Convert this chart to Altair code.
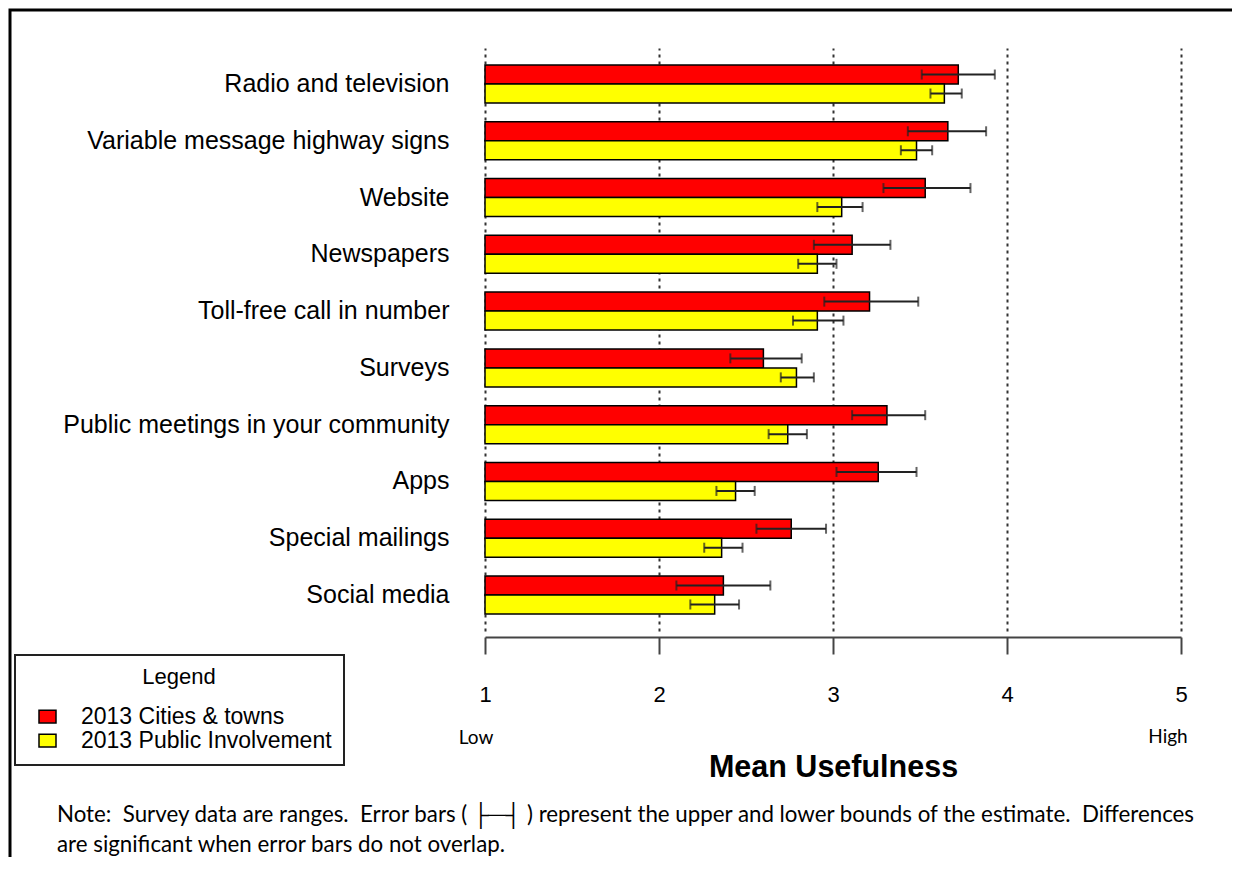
import altair as alt
import pandas as pd

categories = ["Radio and television", "Variable message highway signs", "Website",
              "Newspapers", "Toll-free call in number", "Surveys",
              "Public meetings in your community", "Apps", "Special mailings", "Social media"]
series = ["2013 Cities & towns", "2013 Public Involvement"]
colors = ["#FF0000", "#FFFF00"]

cities_mean = [3.72, 3.66, 3.53, 3.11, 3.21, 2.60, 3.31, 3.26, 2.76, 2.37]
cities_lo = [3.51, 3.43, 3.29, 2.89, 2.95, 2.41, 3.11, 3.02, 2.56, 2.10]
cities_hi = [3.93, 3.88, 3.79, 3.33, 3.49, 2.82, 3.53, 3.48, 2.96, 2.64]
public_mean = [3.64, 3.48, 3.05, 2.91, 2.91, 2.79, 2.74, 2.44, 2.36, 2.32]
public_lo = [3.56, 3.39, 2.91, 2.80, 2.77, 2.70, 2.63, 2.33, 2.26, 2.18]
public_hi = [3.74, 3.57, 3.17, 3.02, 3.06, 2.89, 2.85, 2.55, 2.48, 2.46]

x_ticks = [1, 2, 3, 4, 5]

rows = []
for i, c in enumerate(categories):
    rows.append({"category": c, "series": series[0], "mean": cities_mean[i],
                 "lo": cities_lo[i], "hi": cities_hi[i]})
    rows.append({"category": c, "series": series[1], "mean": public_mean[i],
                 "lo": public_lo[i], "hi": public_hi[i]})
df = pd.DataFrame(rows)

FONT = "Liberation Sans"
NOTEFONT = "Lato"
SP = "\u00a0"

xscale = alt.Scale(domain=[1, 5], nice=False, zero=False)
xaxis = alt.Axis(values=x_ticks, format="d", title="Mean Usefulness",
                 offset=6, domainColor="#444", domainWidth=2,
                 tickColor="#444", tickWidth=2, tickSize=17,
                 labelFont=FONT, labelFontSize=22, labelPadding=30, labelColor="black",
                 labelFlush=False,
                 grid=True, gridColor="#333", gridDash=[3, 4], gridWidth=2,
                 titleFont=FONT, titleFontSize=30.5, titleFontWeight="bold",
                 titleColor="black", titleY=130, titleBaseline="middle")
yenc = alt.Y("category:N", sort=categories,
             scale=alt.Scale(paddingInner=0.331, paddingOuter=0.3),
             axis=alt.Axis(domain=False, ticks=False, grid=False, title=None,
                           labelFont=FONT, labelFontSize=25, labelPadding=36,
                           labelLimit=600, labelColor="black"))
yoff = alt.YOffset("series:N", sort=series, scale=alt.Scale(paddingInner=0, paddingOuter=0))

base = alt.Chart(df)

bars = base.mark_bar(stroke="black", strokeWidth=1.5).encode(
    x=alt.X("mean:Q", scale=xscale, axis=xaxis),
    x2=alt.datum(1),
    y=yenc,
    yOffset=yoff,
    color=alt.Color("series:N", sort=series,
                    scale=alt.Scale(domain=series, range=colors),
                    legend=alt.Legend(title="Legend",
                                      symbolType="M-1,-0.75H1V0.75H-1Z")),
)

err = base.mark_rule(color="#222", strokeWidth=2).encode(
    x=alt.X("lo:Q", scale=xscale, axis=xaxis),
    x2="hi:Q",
    y=yenc,
    yOffset=yoff,
)
cap_lo = base.mark_tick(color="#222", thickness=2, size=10).encode(
    x=alt.X("lo:Q", scale=xscale, axis=xaxis), y=yenc, yOffset=yoff)
cap_hi = base.mark_tick(color="#222", thickness=2, size=10).encode(
    x=alt.X("hi:Q", scale=xscale, axis=xaxis), y=yenc, yOffset=yoff)

one = alt.Chart(pd.DataFrame({"a": [0]}))
frame = one.mark_rect(fillOpacity=0, stroke="black", strokeWidth=3).encode(
    x=alt.value(-475), x2=alt.value(760), y=alt.value(-38), y2=alt.value(815))

low = one.mark_text(text="Low", font=NOTEFONT, fontSize=19, color="black").encode(
    x=alt.value(-9), y=alt.value(690))
high = one.mark_text(text="High", font=NOTEFONT, fontSize=19, color="black").encode(
    x=alt.value(683), y=alt.value(689))

line1 = ("Note:" + SP + " Survey data are ranges." + SP + " Error bars ( \u251c\u2500\u2524 ) represent "
         "the upper and lower bounds of the estimate." + SP + " Differences")
note1 = one.mark_text(text=line1, font=NOTEFONT, fontSize=22.3, color="black",
                      align="left").encode(x=alt.value(-428), y=alt.value(767))
note2 = one.mark_text(text="are significant when error bars do not overlap.",
                      font=NOTEFONT, fontSize=22.3, color="black",
                      align="left").encode(x=alt.value(-428), y=alt.value(797))

chart = alt.layer(frame, bars, err, cap_lo, cap_hi, low, high, note1, note2).properties(
    width=696, height=583,
    autosize=alt.AutoSizeParams(type="none"),
    padding={"left": 477, "top": 40, "right": 51, "bottom": 226},
    background="white",
).configure_view(stroke=None).configure_legend(
    orient="none", legendX=-470, legendY=607,
    strokeColor="#222", strokeWidth=2, padding=12,
    titleFont=FONT, titleFontSize=22, titleFontWeight="normal", titleColor="black",
    titleAnchor="middle", titlePadding=16,
    labelFont=FONT, labelFontSize=23, labelColor="black", labelOffset=22,
    labelLimit=400,
    symbolOffset=9, symbolSize=289, symbolStrokeColor="black", symbolStrokeWidth=1.5,
    rowPadding=0,
)

chart.save("out.html", embed_options={"renderer": "svg", "actions": False})
